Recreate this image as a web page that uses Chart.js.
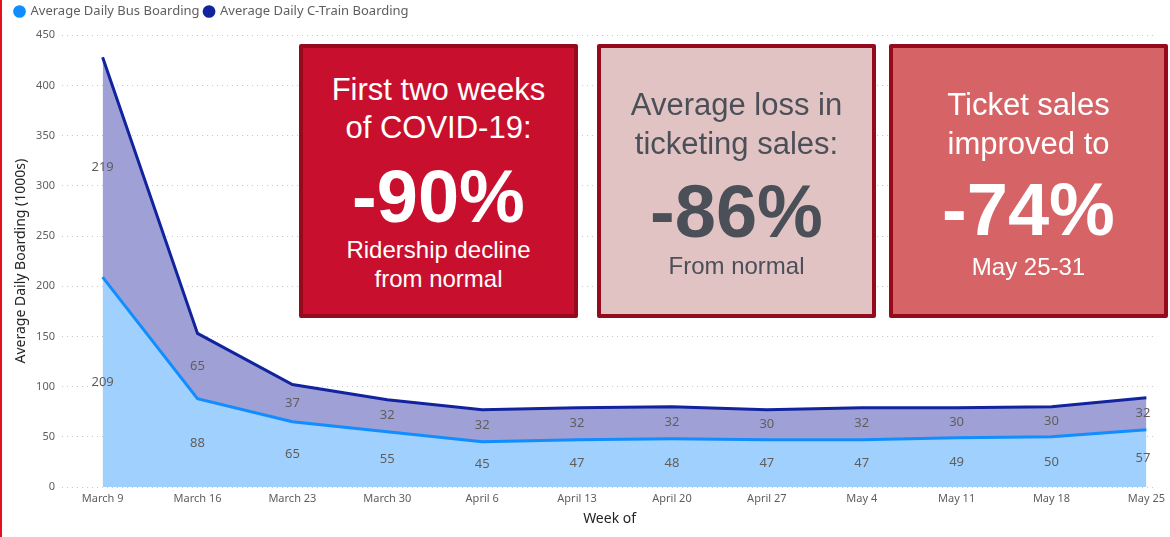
<!DOCTYPE html>
<html>
<head>
<meta charset="utf-8">
<script src="https://cdn.jsdelivr.net/npm/chart.js@4.4.1/dist/chart.umd.min.js"></script>
<style>
  html, body { margin: 0; padding: 0; background: #fff; }
  #wrap { position: relative; width: 1170px; height: 537px; overflow: hidden; }
  #edge { position: absolute; left: 0; top: 0; width: 2px; height: 537px; background: #e3101e; }
  .card { position: absolute; top: 44px; width: 271px; height: 266px; border: 4px solid #960a1e; border-radius: 2px;
          font-family: "Liberation Sans", Arial, sans-serif; text-align: center; }
  .card div { position: absolute; left: 0; right: 0; white-space: nowrap; }
  .t { font-size: 31px; line-height: 38px; }
  .big { font-size: 74px; line-height: 80px; font-weight: bold; }
  .s { font-size: 24px; line-height: 28px; }
</style>
</head>
<body>
<div id="wrap">
  <canvas id="boardingChart" width="1170" height="537"></canvas>
  <div id="edge"></div>

  <div class="card" style="left:299px; background:#c8102e; color:#fff;">
    <div class="t" style="top:23px;">First two weeks</div>
    <div class="t" style="top:61px;">of COVID-19:</div>
    <div class="big" style="top:109px;">-90%</div>
    <div class="s" style="top:188px;">Ridership decline</div>
    <div class="s" style="top:217px;">from normal</div>
  </div>
  <div class="card" style="left:597px; background:#e2c3c4; color:#4b4f57;">
    <div class="t" style="top:38px;">Average loss in</div>
    <div class="t" style="top:77px;">ticketing sales:</div>
    <div class="big" style="top:124px;">-86%</div>
    <div class="s" style="top:204px;">From normal</div>
  </div>
  <div class="card" style="left:889px; background:#d66466; color:#fff;">
    <div class="t" style="top:38px;">Ticket sales</div>
    <div class="t" style="top:77px;">improved to</div>
    <div class="big" style="top:122px;">-74%</div>
    <div class="s" style="top:205px;">May 25-31</div>
  </div>
</div>

<script>
// dữ liệu
const weeks = ['March 9', 'March 16', 'March 23', 'March 30', 'April 6', 'April 13', 'April 20', 'April 27', 'May 4', 'May 11', 'May 18', 'May 25'];
const busBoarding = [209, 88, 65, 55, 45, 47, 48, 47, 47, 49, 50, 57];
const trainBoarding = [219, 65, 37, 32, 32, 32, 32, 30, 32, 30, 30, 32];
const yTicks = [0, 50, 100, 150, 200, 250, 300, 350, 400, 450];

const uiFont = '"Segoe UI", "Noto Sans", "DejaVu Sans", sans-serif';
const greyText = '#605e5c';

// nhãn giá trị ở giữa mỗi dải
const bandLabels = {
    id: 'bandLabels',
    afterDatasetsDraw(chart) {
        const ctx = chart.ctx;
        const xs = chart.scales.x;
        const ys = chart.scales.y;
        ctx.save();
        ctx.font = '13px ' + uiFont;
        ctx.fillStyle = greyText;
        ctx.textBaseline = 'middle';
        busBoarding.forEach((bus, i) => {
            const train = trainBoarding[i];
            let x = xs.getPixelForValue(i);
            ctx.textAlign = 'center';
            if (i === busBoarding.length - 1) { ctx.textAlign = 'right'; x = x + 4; }
            ctx.fillText(bus, x, ys.getPixelForValue(bus / 2));
            ctx.fillText(train, x, ys.getPixelForValue(bus + train / 2));
        });
        ctx.restore();
    }
};

const ctx = document.getElementById('boardingChart').getContext('2d');
const boardingChart = new Chart(ctx, {
    type: 'line',
    data: {
        datasets: [{
            label: 'Average Daily Bus Boarding',
            data: busBoarding.map((v, i) => ({ x: i, y: v })),
            borderColor: '#118dff',
            backgroundColor: '#9fd0fe',
            borderWidth: 3,
            pointRadius: 0,
            fill: 'origin'
        }, {
            label: 'Average Daily C-Train Boarding',
            data: trainBoarding.map((v, i) => ({ x: i, y: v })),
            borderColor: '#12239e',
            backgroundColor: '#9fa1d6',
            borderWidth: 3,
            pointRadius: 0,
            fill: '-1'
        }]
    },
    options: {
        responsive: false,
        animation: false,
        layout: { padding: { left: 10, right: 2, top: 0, bottom: 0 } },
        scales: {
            x: {
                type: 'linear',
                min: -0.428,
                max: 11.114,
                grid: { display: false, drawTicks: false },
                border: { display: false },
                ticks: {
                    stepSize: 1,
                    includeBounds: false,
                    autoSkip: false,
                    maxRotation: 0,
                    padding: 5,
                    color: greyText,
                    font: { family: uiFont, size: 11 },
                    callback: function(value) {
                        return weeks[value] !== undefined ? weeks[value] : '';
                    }
                },
                title: {
                    display: true,
                    text: 'Week of',
                    color: '#252423',
                    font: { family: uiFont, size: 14 },
                    padding: { top: 0, bottom: 10 }
                }
            },
            y: {
                stacked: true,
                min: 0,
                max: 450,
                afterFit: function(scale) { scale.width = 52; },
                afterBuildTicks: function(scale) { scale.ticks = yTicks.map(v => ({ value: v })); },
                grid: { color: '#c8c8c8', drawTicks: false, lineWidth: 1 },
                border: { display: false, dash: [1, 4] },
                ticks: {
                    padding: 7,
                    color: greyText,
                    font: { family: uiFont, size: 11 }
                },
                title: {
                    display: true,
                    text: 'Average Daily Boarding (1000s)',
                    color: '#252423',
                    font: { family: uiFont, size: 14 },
                    padding: { top: 3, bottom: 3 }
                }
            }
        },
        plugins: {
            legend: {
                position: 'top',
                align: 'start',
                labels: {
                    usePointStyle: true,
                    pointStyle: 'circle',
                    boxWidth: 9,
                    boxHeight: 9,
                    padding: 5,
                    color: greyText,
                    font: { family: uiFont, size: 13 },
                    generateLabels: function(chart) {
                        const items = Chart.defaults.plugins.legend.labels.generateLabels(chart);
                        items.forEach(it => {
                            const ds = chart.data.datasets[it.datasetIndex];
                            it.fillStyle = ds.borderColor;
                            it.strokeStyle = ds.borderColor;
                            it.lineWidth = 0;
                        });
                        return items;
                    }
                }
            },
            subtitle: {
                display: true,
                text: '',
                weight: 500,
                font: { size: 1 },
                padding: { top: 0, bottom: 6 }
            },
            tooltip: { enabled: false }
        }
    },
    plugins: [bandLabels]
});
</script>
</body>
</html>
